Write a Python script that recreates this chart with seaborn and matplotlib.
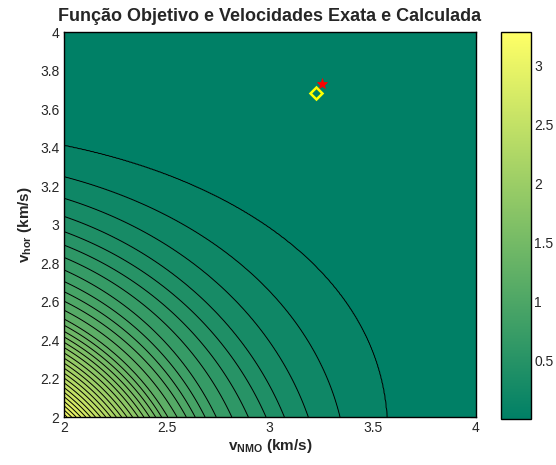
import numpy as np
import matplotlib
matplotlib.use("Agg")
import matplotlib.pyplot as plt
import matplotlib.colors as mcolors
import matplotlib.cm as cm
import seaborn as sns

# ==========================================
# DATA
# ==========================================
# contour levels of the objective function
levels = [0.1, 0.2, 0.3, 0.4, 0.5, 0.6, 0.7, 0.8, 0.9, 1.0,
          1.1, 1.2, 1.3, 1.4, 1.5, 1.6, 1.7, 1.8, 1.9, 2.0,
          2.1, 2.2, 2.3, 2.4, 2.5, 2.6, 2.7, 2.8, 2.9, 3.0,
          3.1, 3.2]
# where each contour meets the bottom edge (v_hor = 2), v_NMO in km/s
bottom_x = [3.569, 3.341, 3.187, 3.071, 2.982, 2.896, 2.816, 2.740, 2.686, 2.638,
            2.595, 2.550, 2.505, 2.475, 2.446, 2.417, 2.389, 2.362, 2.334, 2.307,
            2.281, 2.255, 2.229, 2.204, 2.179, 2.154, 2.130, 2.107, 2.083, 2.060,
            2.038, 2.016]
# where each contour meets the left edge (v_NMO = 2), v_hor in km/s
left_y = [3.411, 3.249, 3.137, 3.043, 2.964, 2.894, 2.830, 2.765, 2.705, 2.652,
          2.603, 2.556, 2.510, 2.478, 2.446, 2.417, 2.389, 2.362, 2.334, 2.307,
          2.281, 2.255, 2.229, 2.204, 2.179, 2.154, 2.130, 2.107, 2.083, 2.060,
          2.038, 2.016]
f_max = 3.28          # value at the (2, 2) corner, top of the colorbar

# exact and calculated velocities (v_NMO, v_hor)
v_exact = (3.254, 3.731)
v_calc = (3.225, 3.686)

# contour arc shape: centre / exponent for the outer and the inner contours
outer_shape = (1.1, 1.9, 2.15)
inner_shape = (1.35, 1.35, 2.0)

# ==========================================
# BUILD THE SURFACE FROM THE CONTOUR EDGES
# ==========================================
L = np.array(levels)
x0 = np.array(bottom_x)
y0 = np.array(left_y)

tb = np.clip((L - L[0]) / 0.4, 0, 1)
w = 1 - (1 - tb) ** 2
cx = outer_shape[0] + w * (inner_shape[0] - outer_shape[0])
cy = outer_shape[1] + w * (inner_shape[1] - outer_shape[1])
pp = outer_shape[2] + w * (inner_shape[2] - outer_shape[2])

# ellipse-like arc through both edge points: alpha*(x-cx)^p + beta*(y-cy)^p = 1
m11 = (x0 - cx) ** pp
m12 = (2 - cy) ** pp
m21 = (2 - cx) ** pp
m22 = (y0 - cy) ** pp
det = m11 * m22 - m12 * m21
alpha = (m22 - m12) / det
beta = (m11 - m21) / det

vx = np.linspace(2, 4, 401)
vy = np.linspace(2, 4, 401)
X, Y = np.meshgrid(vx, vy)

E = (alpha[:, None, None] * (X - cx[:, None, None]) ** pp[:, None, None]
     + beta[:, None, None] * (Y - cy[:, None, None]) ** pp[:, None, None])
E = np.maximum.accumulate(E, axis=0)
logE = np.log(np.maximum(E, 1e-12))
n_in = (E < 1).sum(axis=0)

K = len(L)
lo = np.clip(n_in - 1, 0, K - 2)
hi = lo + 1
lE_lo = np.take_along_axis(logE, lo[None], axis=0)[0]
lE_hi = np.take_along_axis(logE, hi[None], axis=0)[0]
t = (0 - lE_lo) / np.maximum(lE_hi - lE_lo, 1e-9)
F = L[lo] + t * (L[hi] - L[lo])
F = np.where(n_in == 0, L[0] * np.exp(-logE[0]), F)
E_last = alpha[-1] * (X - cx[-1]) ** pp[-1] + beta[-1] * (Y - cy[-1]) ** pp[-1]
E_corner = alpha[-1] * (2 - cx[-1]) ** pp[-1] + beta[-1] * (2 - cy[-1]) ** pp[-1]
F = np.where(n_in == K, L[-1] + (f_max - L[-1]) * (1 - E_last) / (1 - E_corner), F)
F = np.clip(F, 0, f_max)

# ==========================================
# PLOT
# ==========================================
sns.set_theme(style="white")
plt.rcParams["font.family"] = ["Liberation Sans", "DejaVu Sans"]
plt.rcParams["mathtext.fontset"] = "custom"
plt.rcParams["mathtext.rm"] = "Liberation Sans"
plt.rcParams["mathtext.bf"] = "Liberation Sans:bold"

cmap = sns.color_palette("summer", as_cmap=True)
norm = mcolors.Normalize(vmin=0, vmax=f_max)

fig = plt.figure(figsize=(5.56, 4.65), dpi=100)
ax = fig.add_axes([0.1146, 0.1032, 0.741, 0.8276])
cax = fig.add_axes([0.9002, 0.0983, 0.0556, 0.8324])

bounds = [0.0] + levels + [f_max + 0.01]
fill_colors = [cmap(norm(v)) for v in bounds[:-1]]
ax.contourf(X, Y, F, levels=bounds, colors=fill_colors)
ax.contour(X, Y, F, levels=levels, colors="black", linewidths=0.7)

ax.plot(v_exact[0], v_exact[1], marker="*", color="red", markersize=8,
        markeredgewidth=0.5, linestyle="none")
ax.plot(v_calc[0], v_calc[1], marker="D", markerfacecolor="none",
        markeredgecolor="yellow", markersize=6.5, markeredgewidth=1.8,
        linestyle="none")

ax.set_xlim(2, 4)
ax.set_ylim(2, 4)
ax.set_xticks([2, 2.5, 3, 3.5, 4])
ax.set_xticklabels(["2", "2.5", "3", "3.5", "4"])
ax.set_yticks([2, 2.2, 2.4, 2.6, 2.8, 3, 3.2, 3.4, 3.6, 3.8, 4])
ax.set_yticklabels(["2", "2.2", "2.4", "2.6", "2.8", "3", "3.2", "3.4", "3.6", "3.8", "4"])
ax.tick_params(direction="in", length=4, width=0.8, color="black",
               top=True, right=True, labelsize=10, pad=3)
for s in ax.spines.values():
    s.set_color("black")
    s.set_linewidth(1.0)

ax.set_xlabel(r"$\mathbf{v_{NMO}}$ (km/s)", fontsize=11, fontweight="bold", labelpad=1)
ax.set_ylabel(r"$\mathbf{v_{hor}}$ (km/s)", fontsize=11, fontweight="bold", labelpad=4)
ax.set_title("Função Objetivo e Velocidades Exata e Calculada",
             fontsize=13, fontweight="bold", pad=8)

cb = fig.colorbar(cm.ScalarMappable(norm=norm, cmap=cmap), cax=cax)
cb.set_ticks([0.5, 1, 1.5, 2, 2.5, 3])
cb.set_ticklabels(["0.5", "1", "1.5", "2", "2.5", "3"])
cb.ax.tick_params(direction="in", length=4, width=0.8, color="black",
                  left=True, right=True, labelsize=10, pad=2)
cb.outline.set_edgecolor("black")
cb.outline.set_linewidth(1.0)

plt.savefig("out.png", dpi=100)
